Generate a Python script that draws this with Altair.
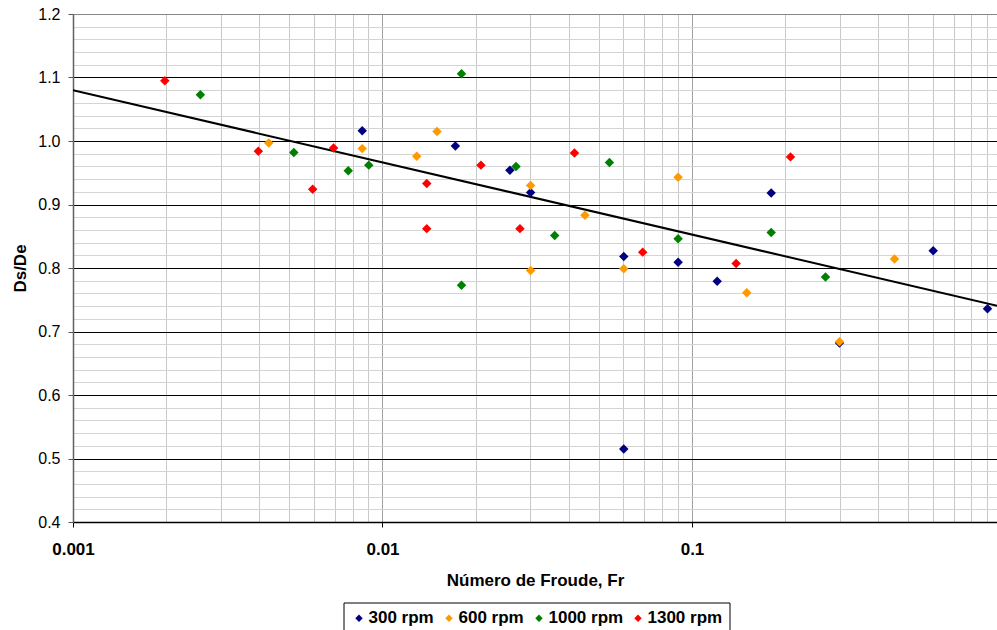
import altair as alt
import pandas as pd

# ---------------- data ----------------
series_names = ["300 rpm", "600 rpm", "1000 rpm", "1300 rpm"]
series_colors = ["#000080", "#FF9900", "#008000", "#FF0000"]

fr_300 = [0.0086, 0.0172, 0.0258, 0.0301, 0.0602, 0.0602, 0.0902, 0.1206, 0.1803, 0.2996, 0.6017, 0.9012]
ds_300 = [1.016, 0.992, 0.954, 0.919, 0.818, 0.515, 0.809, 0.779, 0.918, 0.682, 0.827, 0.736]

fr_600 = [0.00429, 0.0086, 0.0129, 0.0150, 0.0301, 0.0301, 0.0451, 0.0602, 0.0902, 0.1503, 0.2996, 0.4512]
ds_600 = [0.997, 0.988, 0.976, 1.015, 0.930, 0.796, 0.883, 0.799, 0.943, 0.761, 0.684, 0.814]

fr_1000 = [0.00258, 0.00517, 0.00775, 0.00903, 0.0180, 0.0180, 0.0270, 0.0360, 0.0541, 0.0902, 0.1803, 0.2700]
ds_1000 = [1.073, 0.982, 0.953, 0.962, 1.106, 0.773, 0.960, 0.851, 0.966, 0.846, 0.856, 0.786]

fr_1300 = [0.00198, 0.00397, 0.00595, 0.00695, 0.0139, 0.0139, 0.0208, 0.0278, 0.0417, 0.0693, 0.1389, 0.2081]
ds_1300 = [1.095, 0.984, 0.924, 0.989, 0.933, 0.862, 0.962, 0.862, 0.981, 0.825, 0.807, 0.975]

trend_fr = [0.001, 1.0]
trend_ds = [1.080, 0.739]

x_tick_labels = [0.001, 0.01, 0.1]
x_grid_values = [round(m * 10 ** e, 6) for e in (-3, -2, -1) for m in range(1, 10)]
y_grid_values = [round(0.4 + 0.02 * i, 2) for i in range(41)]

# ---------------- tables ----------------
rows = []
for name, xs, ys in zip(series_names,
                        [fr_300, fr_600, fr_1000, fr_1300],
                        [ds_300, ds_600, ds_1000, ds_1300]):
    for xv, yv in zip(xs, ys):
        rows.append({"serie": name, "fr": xv, "ds": yv})
points_df = pd.DataFrame(rows)
trend_df = pd.DataFrame({"fr": trend_fr, "ds": trend_ds})

FONT = "Liberation Sans"
DEC = "abs(log(datum.value)/LN10 - round(log(datum.value)/LN10)) < 0.001"
MAJ = "abs(datum.value*10 - round(datum.value*10)) < 0.001"

x_scale = alt.Scale(type="log", domain=[0.001, 0.9672], nice=False)
y_scale = alt.Scale(domain=[0.4, 1.2], nice=False, zero=False)

x_axis = alt.Axis(
    values=x_grid_values,
    grid=True,
    gridColor={"condition": {"test": DEC, "value": "#a0a0a0"}, "value": "#c8c8c8"},
    gridWidth=1,
    labelExpr=f"({DEC}) ? format(datum.value, '~g') : ''",
    labelFont=FONT, labelFontSize=17, labelFontWeight="bold", labelColor="black",
    labelOverlap=False, labelFlush=False, labelBound=False, labelPadding=14,
    tickColor={"condition": {"test": DEC, "value": "#000000"}, "value": "transparent"},
    tickSize=5,
    domainColor="#000000", domainWidth=1.5,
    title="Número de Froude, Fr", titleFont=FONT, titleFontSize=17,
    titleFontWeight="bold", titleColor="black", titleY=63, titleBaseline="alphabetic",
)

y_axis = alt.Axis(
    values=y_grid_values,
    grid=True,
    gridColor={"condition": [{"test": "datum.value > 1.19", "value": "#888888"},
                             {"test": MAJ, "value": "#000000"}],
               "value": "#d4d4d4"},
    gridWidth=1,
    labelExpr=f"({MAJ}) ? format(datum.value, '.1f') : ''",
    labelFont=FONT, labelFontSize=16, labelColor="black",
    labelOverlap=False, labelFlush=False, labelBound=False, labelPadding=8,
    labelBaseline="middle",
    tickColor={"condition": {"test": MAJ, "value": "#555555"}, "value": "transparent"},
    tickSize=5,
    domainColor="#606060", domainWidth=1.5,
    title="Ds/De", titleFont=FONT, titleFontSize=17, titleFontWeight="bold",
    titleColor="black", titleX=-48, titleBaseline="alphabetic",
)

trend = alt.Chart(trend_df).mark_line(color="black", strokeWidth=2, clip=True).encode(
    x=alt.X("fr:Q", scale=x_scale, axis=x_axis),
    y=alt.Y("ds:Q", scale=y_scale, axis=y_axis),
)

points = alt.Chart(points_df).mark_point(
    shape="diamond", filled=True, size=90, opacity=1, strokeWidth=0
).encode(
    x=alt.X("fr:Q", scale=x_scale, axis=x_axis),
    y=alt.Y("ds:Q", scale=y_scale, axis=y_axis),
    color=alt.Color(
        "serie:N",
        scale=alt.Scale(domain=series_names, range=series_colors),
        sort=series_names,
        legend=alt.Legend(
            orient="none", legendX=270.5, legendY=588.5, direction="horizontal",
            title=None, strokeColor="black", fillColor="white", padding=7,
            symbolType="diamond", symbolSize=55, symbolStrokeWidth=0,
            labelFont=FONT, labelFontSize=17, labelFontWeight="bold", labelColor="black",
            labelOffset=1, columnPadding=6,
        ),
    ),
)

chart = alt.layer(trend, points).properties(
    width=924, height=508,
    autosize=alt.AutoSizeParams(type="none"),
    padding={"left": 73, "top": 14, "right": 0, "bottom": 108},
    background="white",
).configure_view(stroke=None)

chart.save("out.html", embed_options={"renderer": "svg", "actions": False})
